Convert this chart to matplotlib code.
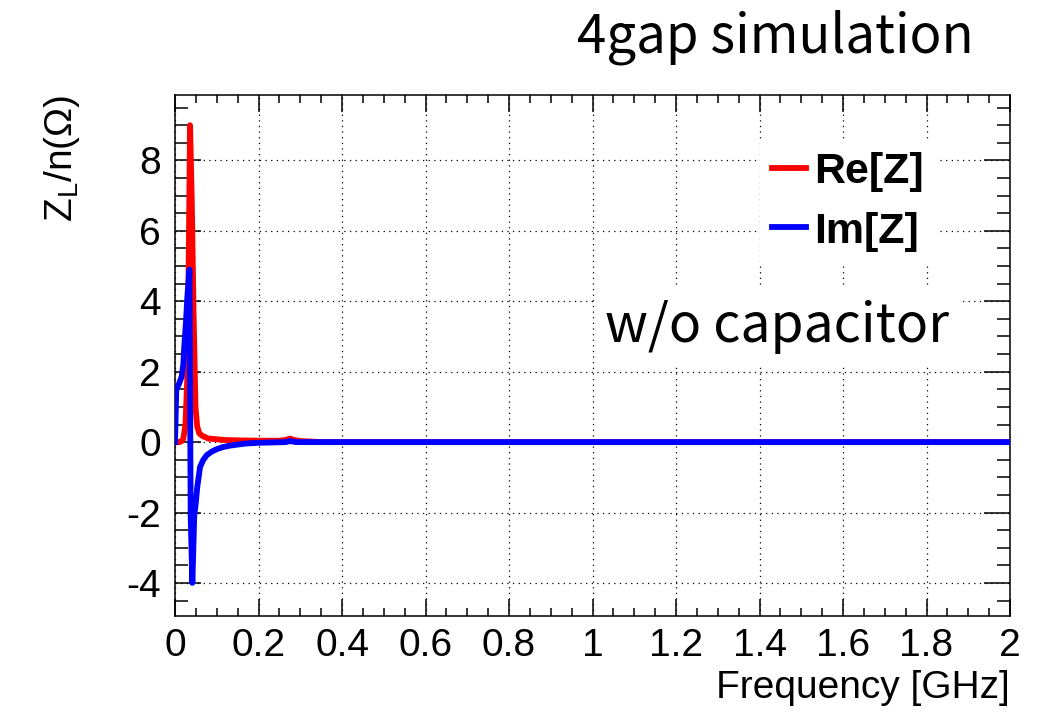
import matplotlib
matplotlib.use('Agg')
import matplotlib.pyplot as plt
from matplotlib.ticker import MultipleLocator

plt.rcParams['font.family'] = ['Liberation Sans', 'DejaVu Sans']
plt.rcParams['mathtext.default'] = 'regular'
plt.rcParams['axes.unicode_minus'] = False

# Longitudinal impedance, 4-gap cavity (simulation, no capacitor)
freq_re = [0.000, 0.010, 0.015, 0.020, 0.025, 0.030, 0.0335, 0.036, 0.040, 0.0445,
           0.049, 0.053, 0.058, 0.065, 0.080, 0.100, 0.120, 0.150, 0.200, 0.250,
           0.265, 0.275, 0.285, 0.300, 0.350, 2.000]
re_z = [0.0, 0.0, 0.02, 0.1, 0.5, 2.0, 6.0, 9.0, 6.9, 3.6,
        1.0, 0.45, 0.25, 0.18, 0.1, 0.08, 0.06, 0.05, 0.04, 0.04,
        0.06, 0.1, 0.06, 0.03, 0.0, 0.0]

freq_im = [0.000, 0.003, 0.010, 0.016, 0.020, 0.022, 0.026, 0.0295, 0.0345, 0.0375,
           0.0415, 0.046, 0.050, 0.053, 0.060, 0.068, 0.076, 0.088, 0.100, 0.115,
           0.132, 0.150, 0.170, 0.200, 0.265, 0.275, 0.290, 0.350, 2.000]
im_z = [0.0, 1.48, 1.67, 1.86, 2.23, 2.7, 3.37, 4.13, 4.9, -2.1,
        -4.0, -2.1, -1.7, -1.3, -0.7, -0.5, -0.37, -0.27, -0.2, -0.14,
        -0.1, -0.07, -0.04, -0.02, 0.0, 0.03, 0.0, 0.0, 0.0]

fig = plt.figure(figsize=(10.4, 7.12), dpi=100)
ax = fig.add_axes([0.1683, 0.1353, 0.8029, 0.7313])

ax.plot(freq_re, re_z, color='#ff0000', lw=4.2, label='Re[Z]', zorder=3)
ax.plot(freq_im, im_z, color='#0000ff', lw=4.2, label='Im[Z]', zorder=4)

ax.set_xlim(0, 2)
ax.set_ylim(-4.93, 9.86)
ax.xaxis.set_major_locator(MultipleLocator(0.2))
ax.xaxis.set_minor_locator(MultipleLocator(0.05))
ax.yaxis.set_major_locator(MultipleLocator(2))
ax.yaxis.set_minor_locator(MultipleLocator(0.5))
ax.xaxis.set_major_formatter(plt.FuncFormatter(lambda v, p: f'{v:g}'))

ax.tick_params(which='both', direction='in', top=True, right=True,
               labelsize=28, width=1.1)
ax.tick_params(axis='x', which='major', length=12, pad=9)
ax.tick_params(axis='x', which='minor', length=6)
ax.tick_params(axis='y', which='major', length=19, pad=10)
ax.tick_params(axis='y', which='minor', length=9.5)
for s in ax.spines.values():
    s.set_linewidth(1.1)

ax.grid(True, which='major', color='black', lw=0.9, linestyle=(0, (1, 3.5)))
ax.set_axisbelow(True)

ax.set_xlabel('Frequency [GHz]', fontsize=28, loc='right', labelpad=4)
ax.set_ylabel(r'Z$_{L}$/n(Ω)', fontsize=28, loc='top', labelpad=32)

leg = ax.legend(loc='upper left', bbox_to_anchor=(0.70, 0.915),
                prop={'weight': 'bold', 'size': 31}, handlelength=0.77,
                handletextpad=0.2, labelspacing=0.45, borderpad=0.3,
                frameon=True, fancybox=False, framealpha=1,
                facecolor='white', edgecolor='none', borderaxespad=0)
for h in leg.get_lines():
    h.set_linewidth(4.2)

ax.text(0.515, 0.5256, 'w/o capacitor', transform=ax.transAxes,
        fontsize=38.5, family=['Noto Sans CJK JP', 'DejaVu Sans'],
        ha='left', va='baseline', zorder=5,
        bbox=dict(facecolor='white', edgecolor='none', pad=7))

fig.text(0.936, 0.9256, '4gap simulation', fontsize=38,
         family=['Noto Sans CJK JP', 'DejaVu Sans'], ha='right', va='baseline')

fig.savefig('out.png', dpi=100)
